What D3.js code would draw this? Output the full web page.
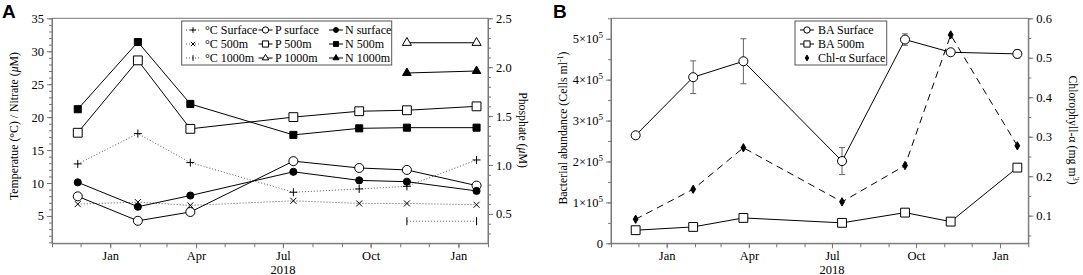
<!DOCTYPE html>
<html>
<head>
<meta charset="utf-8">
<script src="https://cdn.jsdelivr.net/npm/d3@7"></script>
<style>
  body { margin: 0; background: #fff; }
  text { font-family: "Liberation Serif", "Times New Roman", serif; fill: #000; }
  .axis text { font-size: 12.5px; font-family: "Liberation Serif", serif; }
  .axis path, .axis line { stroke: #777; }
</style>
</head>
<body>
<svg id="chart" width="1083" height="275"></svg>
<script>
// sampling dates (shared by both panels)
const sampleDates = ["2017-11-28", "2018-01-30", "2018-03-26", "2018-07-12", "2018-09-19", "2018-11-08", "2019-01-20"];

// panel A - temperature / nitrate (left axis), phosphate (right axis)
const tempSurface = [12.9, 17.5, 13.1, 8.6, 9.1, 9.5, 13.5];
const temp500 = [6.8, 7.1, 6.6, 7.3, 6.9, 6.9, 6.7];
const temp1000 = [null, null, null, null, null, 4.2, 4.2];
const pSurface = [0.68, 0.43, 0.52, 1.04, 0.97, 0.95, 0.79];
const p500 = [1.33, 2.07, 1.37, 1.49, 1.55, 1.56, 1.60];
const p1000 = [null, null, null, null, null, 2.25, 2.25];
const nSurface = [10.1, 6.4, 8.1, 11.7, 10.4, 10.2, 8.8];
const n500 = [21.2, 31.4, 22.0, 17.3, 18.3, 18.4, 18.4];
const n1000 = [null, null, null, null, null, 26.7, 27.0];

// panel B - bacterial abundance (left), chlorophyll (right)
const baSurface = [264000, 406000, 445000, 201000, 498000, 467000, 463000];
const baSurfaceErr = [2000, 40000, 55000, 33000, 14000, 3000, 10000];
const ba500 = [32000, 40000, 62000, 50000, 75000, 53000, 185000];
const chlSurface = [0.091, 0.167, 0.272, 0.135, 0.227, 0.558, 0.277];

const quarterLabels = ["Jan", "Apr", "Jul", "Oct", "Jan"];

const parse = d3.timeParse("%Y-%m-%d");
const dates = sampleDates.map(parse);
const svg = d3.select("#chart");

const plotTop = 18.3, plotBottom = 243.3;
const xDomain = [parse("2017-11-01"), parse("2019-02-01")];

function symbolPath(type, k) {
  if (type === "plus") return `M${-4 * k},0H${4 * k}M0,${-4 * k}V${4 * k}`;
  if (type === "cross") return `M${-3 * k},${-3 * k}L${3 * k},${3 * k}M${-3 * k},${3 * k}L${3 * k},${-3 * k}`;
  if (type === "vline") return `M0,${-4 * k}V${4 * k}`;
  const map = {
    circle: [d3.symbolCircle, 64], circleFilled: [d3.symbolCircle, 40],
    square: [d3.symbolSquare, 78], squareFilled: [d3.symbolSquare, 50],
    triangle: [d3.symbolTriangle, 36], triangleFilled: [d3.symbolTriangle, 32],
    diamondFilled: [d3.symbolDiamond, 20]
  };
  const m = map[type];
  return d3.symbol().type(m[0]).size(m[1] * k * k)();
}

function drawMarker(g, type, x, y, k = 1) {
  const stroke = ["plus", "cross", "vline"].includes(type);
  const filled = type.endsWith("Filled");
  g.append("path")
    .attr("d", symbolPath(type, k))
    .attr("transform", `translate(${x},${y})`)
    .attr("fill", stroke ? "none" : (filled ? "#000" : "#fff"))
    .attr("stroke", "#000")
    .attr("stroke-width", 1);
}

function drawSeries(g, x, y, values, opts) {
  const pts = values.map((v, i) => ({ d: dates[i], v }));
  const line = d3.line().defined(p => p.v != null).x(p => x(p.d)).y(p => y(p.v));
  g.append("path")
    .datum(pts)
    .attr("d", line)
    .attr("fill", "none")
    .attr("stroke", opts.color || "#000")
    .attr("stroke-width", 1)
    .attr("stroke-dasharray", opts.dash || null);
  return pts;
}

function drawMarkers(g, x, y, pts, type) {
  pts.filter(p => p.v != null).forEach(p => drawMarker(g, type, x(p.d), y(p.v)));
}

function timeAxis(g, x) {
  const axG = g.append("g").attr("class", "axis").attr("transform", `translate(0,${plotBottom})`);
  axG.call(d3.axisBottom(x).ticks(d3.timeMonth.every(1)).tickSize(4).tickSizeOuter(0).tickFormat(""));
  const quarters = d3.timeMonth.every(3).range(parse("2018-01-01"), parse("2019-01-02"));
  const major = g.append("g").attr("class", "axis").attr("transform", `translate(0,${plotBottom})`)
    .call(d3.axisBottom(x).tickValues(quarters).tickSize(5).tickSizeOuter(0)
      .tickFormat((d, i) => quarterLabels[i]));
  major.select(".domain").remove();
  g.append("text")
    .attr("x", x(parse("2018-07-01")))
    .attr("y", 273.5)
    .attr("text-anchor", "middle")
    .style("font-size", "12.5px")
    .text("2018");
}

function yAxis(g, scale, side, xPos, majors, minors, fmt) {
  const axisFn = side === "left" ? d3.axisLeft : d3.axisRight;
  g.append("g").attr("class", "axis").attr("transform", `translate(${xPos},0)`)
    .call(axisFn(scale).tickValues(minors).tickSize(3).tickSizeOuter(0).tickFormat(""));
  const m = g.append("g").attr("class", "axis").attr("transform", `translate(${xPos},0)`)
    .call(axisFn(scale).tickValues(majors).tickSize(5).tickSizeOuter(0).tickFormat(fmt));
  m.select(".domain").remove();
  return m;
}

function frame(g, left, right) {
  g.append("rect")
    .attr("x", left).attr("y", plotTop)
    .attr("width", right - left).attr("height", plotBottom - plotTop)
    .attr("fill", "none").attr("stroke", "#777").attr("stroke-width", 1);
}

function legend(g, x0, y0, w, h, cols) {
  g.append("rect").attr("x", x0).attr("y", y0).attr("width", w).attr("height", h)
    .attr("fill", "#fff").attr("stroke", "#555").attr("stroke-width", 1);
  cols.forEach(col => {
    col.items.forEach((it, r) => {
      const yy = y0 + 9 + r * 14;
      if (it.line) {
        g.append("line").attr("x1", col.sx - 7).attr("x2", col.sx + 7)
          .attr("y1", yy).attr("y2", yy)
          .attr("stroke", it.color || "#000").attr("stroke-dasharray", it.dash || null);
      }
      drawMarker(g, it.type, col.sx, yy, 0.7);
      g.append("text").attr("x", col.tx).attr("y", yy + 4)
        .style("font-size", "12px").text(it.label);
    });
  });
}

// ---------- Panel A ----------
const aLeft = 52, aRight = 488;
const xA = d3.scaleTime().domain(xDomain).range([aLeft, aRight]);
const yA = d3.scaleLinear().domain([0.85, 35]).range([plotBottom, plotTop]);
const yP = d3.scaleLinear().domain([0.2, 2.5]).range([plotBottom, plotTop]);
const gA = svg.append("g");

frame(gA, aLeft, aRight);
timeAxis(gA, xA);
yAxis(gA, yA, "left", aLeft, d3.range(5, 36, 5), d3.range(1, 36, 1), d3.format("d"));
yAxis(gA, yP, "right", aRight, [0.5, 1.0, 1.5, 2.0, 2.5], d3.range(3, 26).map(d => d / 10), d3.format(".1f"));

const dotted = "1,2";
const dotColor = "#555";
const sA = [
  [tempSurface, yA, "plus", dotted, dotColor],
  [temp500, yA, "cross", dotted, dotColor],
  [temp1000, yA, "vline", dotted, dotColor],
  [pSurface, yP, "circle", null, "#000"],
  [p500, yP, "square", null, "#000"],
  [p1000, yP, "triangle", null, "#000"],
  [nSurface, yA, "circleFilled", null, "#000"],
  [n500, yA, "squareFilled", null, "#000"],
  [n1000, yA, "triangleFilled", null, "#000"]
];
const ptsA = sA.map(s => drawSeries(gA, xA, s[1], s[0], { dash: s[3], color: s[4] }));
sA.forEach((s, i) => drawMarkers(gA, xA, s[1], ptsA[i], s[2]));

legend(gA, 181.7, 21, 210, 44, [
  { sx: 193, tx: 205, items: [
    { type: "plus", label: "°C Surface", line: true, dash: dotted, color: dotColor },
    { type: "cross", label: "°C 500m", line: true, dash: dotted, color: dotColor },
    { type: "vline", label: "°C 1000m", line: true, dash: dotted, color: dotColor }] },
  { sx: 265.5, tx: 275, items: [
    { type: "circle", label: "P surface", line: true },
    { type: "square", label: "P 500m", line: true },
    { type: "triangle", label: "P 1000m", line: true }] },
  { sx: 336, tx: 345, items: [
    { type: "circleFilled", label: "N surface", line: true },
    { type: "squareFilled", label: "N 500m", line: true },
    { type: "triangleFilled", label: "N 1000m", line: true }] }
]);

gA.append("text")
  .attr("transform", "translate(17.5,126) rotate(-90)")
  .attr("text-anchor", "middle").style("font-size", "11.8px")
  .html('Temperatue (°C) / Nitrate (<tspan font-style="italic">μ</tspan>M)');
gA.append("text")
  .attr("transform", "translate(519,130) rotate(90)")
  .attr("text-anchor", "middle").style("font-size", "11.8px")
  .html('Phosphate (<tspan font-style="italic">μ</tspan>M)');

// ---------- Panel B ----------
const bLeft = 611, bRight = 1028.3;
const xB = d3.scaleTime().domain(xDomain).range([bLeft, bRight]);
const yB = d3.scaleLinear().domain([0, 550000]).range([plotBottom, plotTop]);
const yC = d3.scaleLinear().domain([0.03, 0.6]).range([plotBottom, plotTop]);
const gB = svg.append("g");

frame(gB, bLeft, bRight);
timeAxis(gB, xB);
const bl = yAxis(gB, yB, "left", bLeft, d3.range(0, 500001, 100000), d3.range(0, 550001, 50000), d => "");
bl.selectAll("text").each(function (d) {
  const t = d3.select(this);
  if (d === 0) { t.text("0"); return; }
  t.html(`${d / 100000}×10<tspan dy="-5" font-size="9px">5</tspan>`);
});
yAxis(gB, yC, "right", bRight, [0.1, 0.2, 0.3, 0.4, 0.5, 0.6], d3.range(1, 13).map(d => d * 0.05), d3.format(".1f"));

// error bars
baSurface.forEach((v, i) => {
  const xx = xB(dates[i]);
  const e = baSurfaceErr[i];
  gB.append("line").attr("x1", xx).attr("x2", xx).attr("y1", yB(v - e)).attr("y2", yB(v + e))
    .attr("stroke", "#666");
  [v - e, v + e].forEach(c => gB.append("line")
    .attr("x1", xx - 3).attr("x2", xx + 3).attr("y1", yB(c)).attr("y2", yB(c)).attr("stroke", "#666"));
});

const pBa = drawSeries(gB, xB, yB, baSurface, {});
const pBa5 = drawSeries(gB, xB, yB, ba500, {});
const pChl = drawSeries(gB, xB, yC, chlSurface, { dash: "7,5" });
drawMarkers(gB, xB, yB, pBa, "circle");
drawMarkers(gB, xB, yB, pBa5, "square");
drawMarkers(gB, xB, yC, pChl, "diamondFilled");

legend(gB, 795, 21, 91.7, 44, [
  { sx: 807, tx: 818, items: [
    { type: "circle", label: "BA Surface", line: true },
    { type: "square", label: "BA 500m", line: true },
    { type: "diamondFilled", label: "Chl-α Surface", line: false }] }
]);

gB.append("text")
  .attr("transform", "translate(567,128) rotate(-90)")
  .attr("text-anchor", "middle").style("font-size", "11.8px")
  .html('Bacterial abundance (Cells ml<tspan dy="-4" font-size="8px">-1</tspan><tspan dy="4">)</tspan>');
gB.append("text")
  .attr("transform", "translate(1069,130) rotate(90)")
  .attr("text-anchor", "middle").style("font-size", "11.8px")
  .html('Chlorophyll-α (mg m<tspan dy="-4" font-size="8px">3</tspan><tspan dy="4">)</tspan>');

// panel letters
svg.append("text").attr("x", 2).attr("y", 18)
  .style("font-family", "'Liberation Sans', Arial, sans-serif").style("font-weight", "bold").style("font-size", "19px")
  .text("A");
svg.append("text").attr("x", 553).attr("y", 18)
  .style("font-family", "'Liberation Sans', Arial, sans-serif").style("font-weight", "bold").style("font-size", "19px")
  .text("B");
</script>
</body>
</html>
